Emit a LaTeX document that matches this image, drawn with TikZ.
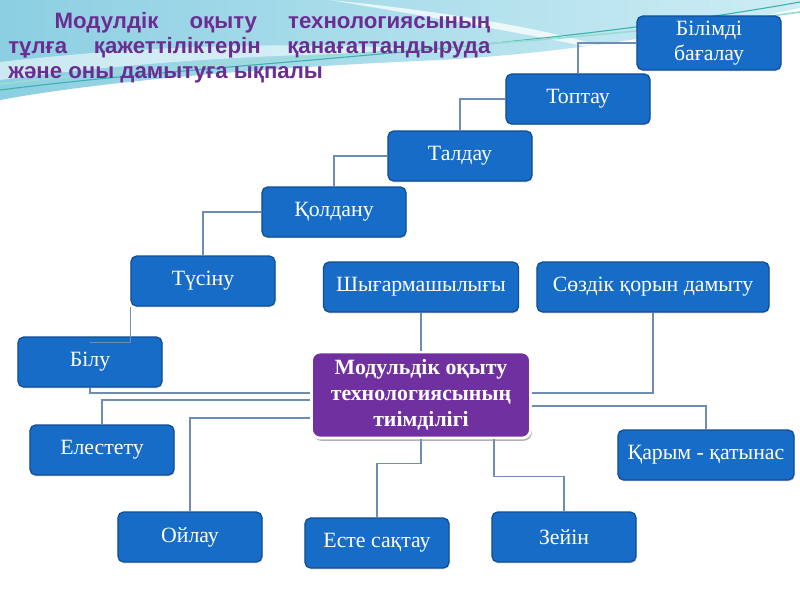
\documentclass[tikz,border=0pt]{standalone}
\usepackage{fontspec}
\usepackage{xcolor}
\usepackage{tikz}
\usetikzlibrary{calc,shadows}
\newfontfamily\boxfont{Liberation Serif}
\newfontfamily\titlefont{Liberation Sans}
\definecolor{boxblue}{HTML}{166CC6}
\definecolor{boxline}{HTML}{0F4E96}
\definecolor{corepurple}{HTML}{7030A0}
\definecolor{titlepurple}{HTML}{6C2D93}
\definecolor{linkgray}{HTML}{6F8DB3}
\definecolor{skycyan}{HTML}{8CCFE2}
\definecolor{skylight}{HTML}{CDEDF4}
\definecolor{wavelight}{HTML}{9ADCD4}
\definecolor{wavedark}{HTML}{3DB2AC}

\begin{document}
\begin{tikzpicture}[
    x=0.025cm,y=-0.025cm,
    box/.style={rectangle,draw=boxline,fill=boxblue,line width=0.9pt,rounded corners=4pt,minimum width=3.6cm,minimum height=1.25cm,text=white,font=\boxfont\fontsize{15.5}{18}\selectfont,align=center,drop shadow={opacity=0.25,shadow xshift=0.5pt,shadow yshift=-1pt}},
    core/.style={rectangle,draw=white,fill=corepurple,line width=2pt,rounded corners=6pt,minimum width=5.475cm,minimum height=2.15cm,text=white,font=\boxfont\bfseries\fontsize{15.5}{18.5}\selectfont,align=center,drop shadow={opacity=0.6,shadow xshift=1pt,shadow yshift=-2pt}},
    link/.style={draw=linkgray,line width=0.75pt},
    heading/.style={anchor=north west,inner sep=0pt,text width=12.05cm,align=justify,text=titlepurple,font=\titlefont\bfseries\fontsize{15.8}{17.8}\selectfont},
]
\useasboundingbox (0,0) rectangle (800,600);
% background
\fill[white] (0,0) rectangle (800,600);
\shade[left color=skycyan,right color=skylight] (0,0) -- (800,0) -- (800,8) .. controls (700,30) and (580,52) .. (440,60) .. controls (300,66) and (120,78) .. (0,100) -- cycle;
\fill[white,opacity=0.75] (330,0) .. controls (450,12) and (560,30) .. (640,58) .. controls (560,40) and (450,20) .. (330,0) -- cycle;
\fill[white,opacity=0.55] (0,62) .. controls (150,45) and (300,40) .. (470,52) .. controls (300,52) and (150,60) .. (0,80) -- cycle;
\draw[wavedark,line width=0.8pt] (0,90) .. controls (220,62) and (520,52) .. (800,2);
\draw[wavelight,line width=1.2pt] (0,84) .. controls (240,56) and (540,48) .. (800,12);

% title
\node[heading] (title) at (8,12) {\hspace*{33pt}Модулдік оқыту технологиясының\linebreak тұлға қажеттіліктерін қанағаттандыруда\linebreak және оны дамытуға ықпалы};

% staircase
\node[box,minimum height=1.28cm] (bagalau) at (709,43) {Білімді\\бағалау};
\node[box] (toptau)  at (578,99)  {Топтау};
\node[box] (taldau)  at (460,156) {Талдау};
\node[box] (koldanu) at (334,212) {Қолдану};
\node[box] (tusinu)  at (203,281) {Түсіну};
\node[box] (bilu)    at (90,362)  {Білу};

% centre and around
\node[box,minimum width=4.875cm] (shygarm) at (421,287) {Шығармашылығы};
\node[box,minimum width=5.8cm]   (sozdik)  at (653,287) {Сөздік қорын дамыту};
\node[core] (tiim) at (421,395) {Модульдік оқыту\\технологиясының\\тиімділігі};
\node[box] (elestetu) at (102,450) {Елестету};
\node[box,minimum width=4.4cm] (karym) at (706,455) {Қарым - қатынас};
\node[box] (oilau) at (190,537) {Ойлау};
\node[box] (este)  at (377,543) {Есте сақтау};
\node[box] (zeiin) at (564,537) {Зейін};

\draw[link] (bagalau.west) -| (toptau.north);
\draw[link] (toptau.west) -| (taldau.north);
\draw[link] (taldau.west) -| (koldanu.north);
\draw[link] (koldanu.west) -| (tusinu.north);
\draw[link] (tusinu.south west) |- ($(bilu.north)+(0,6)$);
\draw[link] (bilu.south) |- ($(tiim.west)+(0,-2)$);
\draw[link] ($(tiim.west)+(0,5)$) -| (elestetu.north);
\draw[link] ($(tiim.west)+(0,23)$) -| (oilau.north);
\draw[link] (shygarm.south) -- (tiim.north);
\draw[link] ($(tiim.east)+(0,-2)$) -| (sozdik.south);
\draw[link] ($(tiim.east)+(0,11)$) -| (karym.north);
\draw[link] (tiim.south) -- ++(0,24) -| (este.north);
\draw[link] ($(tiim.south)+(73,0)$) -- ++(0,37) -| (zeiin.north);
\end{tikzpicture}
\end{document}
